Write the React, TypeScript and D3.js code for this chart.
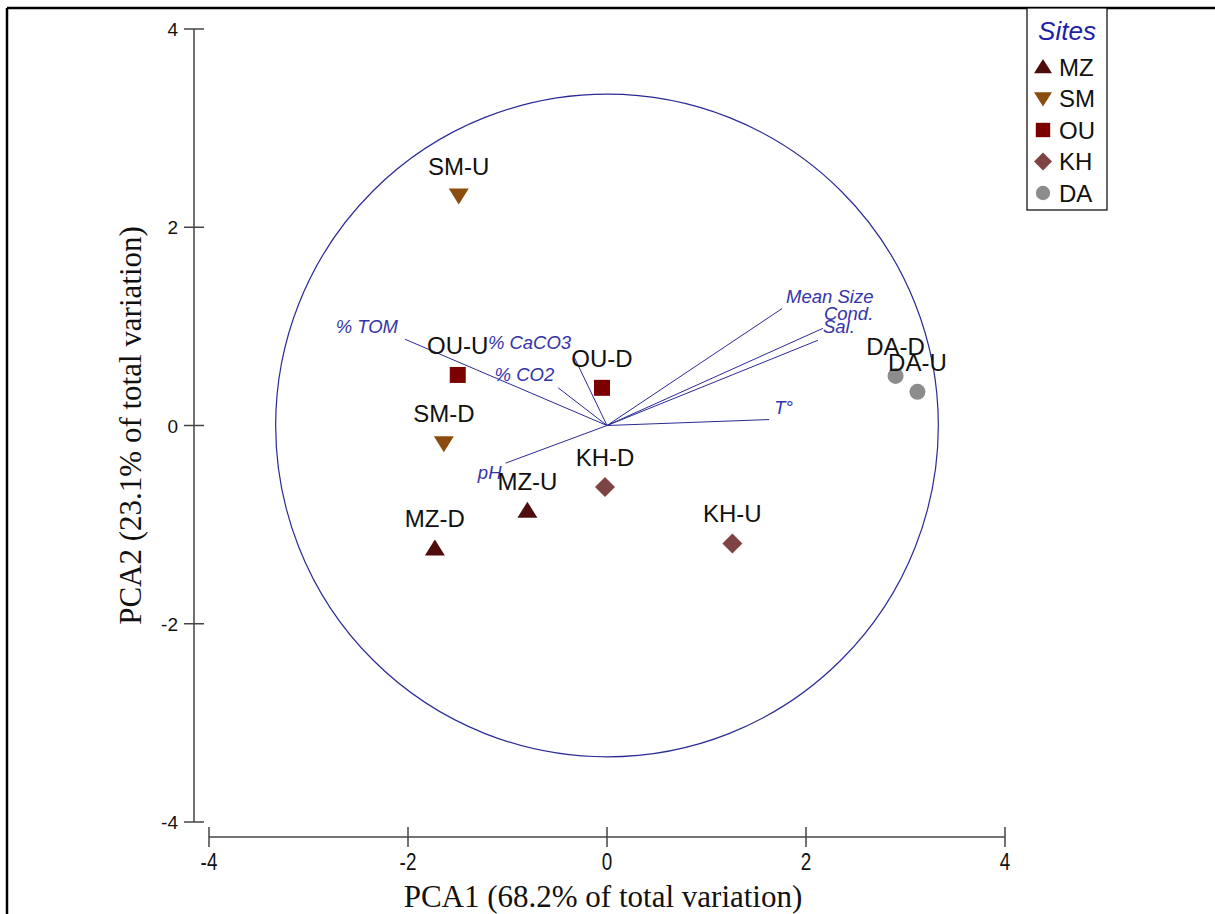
import React from "react";
import { scaleLinear, scaleOrdinal } from "d3";

// sites (groups) and their samples
const sites = ["MZ", "SM", "OU", "KH", "DA"];
const siteColors = ["#4f0c0c", "#8a4d0e", "#7c0000", "#7e4444", "#8c8c8c"];
const siteShapes = ["triUp", "triDown", "square", "diamond", "circle"];

const sampleNames = ["MZ-D", "MZ-U", "SM-D", "SM-U", "OU-D", "OU-U", "KH-D", "KH-U", "DA-D", "DA-U"];
const sampleSites = ["MZ", "MZ", "SM", "SM", "OU", "OU", "KH", "KH", "DA", "DA"];
const pca1 = [-1.73, -0.8, -1.64, -1.49, -0.05, -1.5, -0.02, 1.26, 2.9, 3.12];
const pca2 = [-1.24, -0.86, -0.18, 2.32, 0.38, 0.51, -0.62, -1.19, 0.5, 0.34];

// environmental vectors
const variables = ["% TOM", "% CaCO3", "% CO2", "pH", "Mean Size", "Cond.", "Sal.", "T°"];
const loadX = [-2.03, -0.33, -0.49, -1.02, 1.76, 2.17, 2.12, 1.63];
const loadY = [0.87, 0.69, 0.38, -0.38, 1.18, 0.98, 0.86, 0.06];

const circleRadius = 3.33;
const ticks = [-4, -2, 0, 2, 4];

const W = 1215;
const H = 914;

// label placement next to vector tips
const vecLabel: Record<string, { anchor: string; dx: number; dy: number }> = {
  "% TOM": { anchor: "end", dx: -7, dy: -6 },
  "% CaCO3": { anchor: "end", dx: -3, dy: -8 },
  "% CO2": { anchor: "end", dx: -4, dy: -7 },
  pH: { anchor: "end", dx: -4, dy: 16 },
  "Mean Size": { anchor: "start", dx: 4, dy: -6 },
  "Cond.": { anchor: "start", dx: 1, dy: -8 },
  "Sal.": { anchor: "start", dx: 5, dy: -7 },
  "T°": { anchor: "start", dx: 5, dy: -6 },
};

function markerPath(shape: string) {
  switch (shape) {
    case "triUp":
      return "M-10,7L10,7L0,-9Z";
    case "triDown":
      return "M-10,-7L10,-7L0,9Z";
    case "square":
      return "M-8,-8L8,-8L8,8L-8,8Z";
    case "diamond":
      return "M0,-10L10,0L0,10L-10,0Z";
    default:
      return "M-8,0A8,8 0 1,0 8,0A8,8 0 1,0 -8,0Z";
  }
}

export default function App() {
  const x = scaleLinear().domain([-4, 4]).range([209, 1005]);
  const y = scaleLinear().domain([-4, 4]).range([822, 29]);
  const color = scaleOrdinal<string, string>().domain(sites).range(siteColors);
  const shape = scaleOrdinal<string, string>().domain(sites).range(siteShapes);

  const axisColor = "#444";
  const blue = "#2a2a96";
  const sans = "Liberation Sans, Arial, sans-serif";
  const serif = "Liberation Serif, Times New Roman, serif";

  const x0 = x(0);
  const y0 = y(0);
  const rPx = x(circleRadius) - x0;

  return (
    <svg
      width={W}
      height={H}
      style={{ position: "absolute", left: 0, top: 0, background: "#fff" }}
    >
      {/* outer frame */}
      <line x1={7} y1={8} x2={W} y2={8} stroke="#000" strokeWidth={2.5} />
      <line x1={7} y1={8} x2={7} y2={H} stroke="#000" strokeWidth={2.5} />

      {/* y axis */}
      <line x1={194} x2={194} y1={y(4)} y2={y(-4)} stroke={axisColor} strokeWidth={1.5} />
      {ticks.map((t) => (
        <g key={"yt" + t}>
          <line x1={184} x2={204} y1={y(t)} y2={y(t)} stroke={axisColor} strokeWidth={1.5} />
          <text x={178} y={y(t) + 7} textAnchor="end" fontFamily={sans} fontSize={19} fill="#111">
            {t}
          </text>
        </g>
      ))}

      {/* x axis */}
      <line x1={x(-4)} x2={x(4)} y1={837} y2={837} stroke={axisColor} strokeWidth={1.5} />
      {ticks.map((t) => (
        <g key={"xt" + t}>
          <line x1={x(t)} x2={x(t)} y1={827} y2={847} stroke={axisColor} strokeWidth={1.5} />
          <text
            transform={`translate(${x(t)},${870}) scale(0.82,1)`}
            textAnchor="middle"
            fontFamily={sans}
            fontSize={23}
            fill="#111"
          >
            {t}
          </text>
        </g>
      ))}

      {/* axis titles */}
      <text x={603} y={907} textAnchor="middle" fontFamily={serif} fontSize={31} fill="#111">
        PCA1 (68.2% of total variation)
      </text>
      <text
        transform={`translate(141,${y0}) rotate(-90)`}
        textAnchor="middle"
        fontFamily={serif}
        fontSize={31}
        fill="#111"
      >
        PCA2 (23.1% of total variation)
      </text>

      {/* correlation circle */}
      <circle cx={x0} cy={y0} r={rPx} fill="none" stroke={blue} strokeWidth={1.2} />

      {/* vectors */}
      {variables.map((v, i) => {
        const ex = x(loadX[i]);
        const ey = y(loadY[i]);
        const p = vecLabel[v];
        return (
          <g key={v}>
            <line x1={x0} y1={y0} x2={ex} y2={ey} stroke={blue} strokeWidth={1} />
            <text
              x={ex + p.dx}
              y={ey + p.dy}
              textAnchor={p.anchor}
              fontFamily={sans}
              fontStyle="italic"
              fontSize={18.5}
              fill="#3434a8"
            >
              {v}
            </text>
          </g>
        );
      })}

      {/* samples */}
      {sampleNames.map((n, i) => {
        const s = sampleSites[i];
        const px = x(pca1[i]);
        const py = y(pca2[i]);
        return (
          <g key={n}>
            <path d={markerPath(shape(s))} transform={`translate(${px},${py})`} fill={color(s)} />
            <text x={px} y={py - 21} textAnchor="middle" fontFamily={sans} fontSize={24} fill="#111">
              {n}
            </text>
          </g>
        );
      })}

      {/* legend */}
      <rect x={1027} y={8} width={80} height={202} fill="#fff" stroke="#000" strokeWidth={1.2} />
      <text x={1067} y={40} textAnchor="middle" fontFamily={sans} fontStyle="italic" fontSize={26} fill="#1e1ea8">
        Sites
      </text>
      {sites.map((s, i) => (
        <g key={s} transform={`translate(0,${67 + i * 31.5})`}>
          <path d={markerPath(shape(s))} transform="translate(1043,0) scale(0.9)" fill={color(s)} />
          <text x={1059} y={8.5} fontFamily={sans} fontSize={24} fill="#111">
            {s}
          </text>
        </g>
      ))}
    </svg>
  );
}
